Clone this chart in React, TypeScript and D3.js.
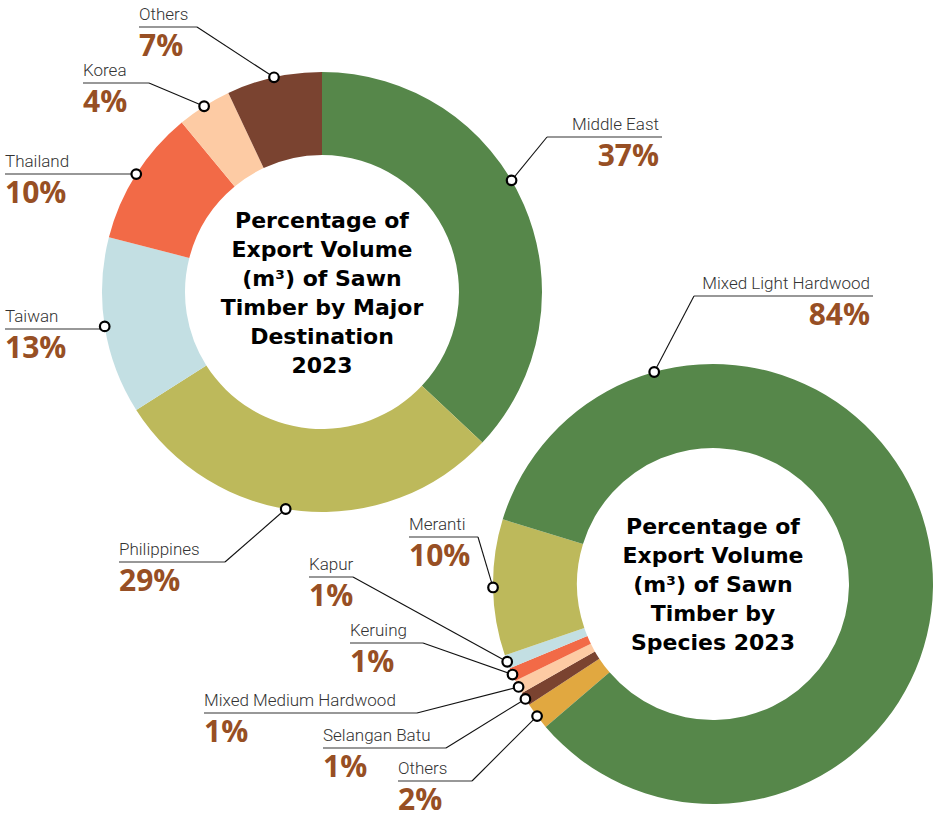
import React from 'react';
import * as d3 from 'd3';

// ---------- Data ----------
const destCategories = ['Middle East', 'Philippines', 'Taiwan', 'Thailand', 'Korea', 'Others'];
const destValues = [37, 29, 13, 10, 4, 7];
const destColors = ['#56874a', '#bdb95b', '#c3dfe3', '#f26a47', '#fdcba4', '#7a4330'];
const destTitle = ['Percentage of', 'Export Volume', '(m³) of Sawn', 'Timber by Major', 'Destination', '2023'];

const speciesCategories = ['Others', 'Selangan Batu', 'Mixed Medium Hardwood', 'Keruing', 'Kapur', 'Meranti', 'Mixed Light Hardwood'];
const speciesValues = [2, 1, 1, 1, 1, 10, 84];
const speciesColors = ['#e1a840', '#7a4330', '#fdcba4', '#f26a47', '#c3dfe3', '#bdb95b', '#56874a'];
const speciesTitle = ['Percentage of', 'Export Volume', '(m³) of Sawn', 'Timber by', 'Species 2023'];

// ---------- Layout ----------
type LabelPos = { x: number; lineY: number; elbow: number | null; align: 'start' | 'end'; anchorDeg?: number };

const destLabels: LabelPos[] = [
  { x: 659, lineY: 137, elbow: 547, align: 'end', anchorDeg: 59.5 },
  { x: 119, lineY: 562, elbow: 225, align: 'start', anchorDeg: 189.5 },
  { x: 5, lineY: 329, elbow: null, align: 'start' },
  { x: 5, lineY: 174, elbow: null, align: 'start' },
  { x: 83, lineY: 83, elbow: 149, align: 'start' },
  { x: 139, lineY: 27, elbow: 197, align: 'start' },
];

const speciesLabels: LabelPos[] = [
  { x: 398, lineY: 781, elbow: 472, align: 'start' },
  { x: 323, lineY: 748, elbow: 446, align: 'start' },
  { x: 204, lineY: 713, elbow: 417, align: 'start' },
  { x: 350, lineY: 643, elbow: 423, align: 'start' },
  { x: 309, lineY: 577, elbow: 353, align: 'start' },
  { x: 409, lineY: 537, elbow: 478, align: 'start' },
  { x: 870, lineY: 296, elbow: 694, align: 'end', anchorDeg: 344.5 },
];

const LABEL_FONT = 'Roboto, sans-serif';
const TITLE_FONT = '"DejaVu Sans", sans-serif';
const PCT_FONT = '"Open Sans", sans-serif';
const PCT_COLOR = '#974f24';

function Donut(props: {
  cx: number; cy: number; R: number; r: number; startDeg: number;
  cats: string[]; vals: number[]; colors: string[]; labels: LabelPos[]; title: string[];
}) {
  const { cx, cy, R, r, startDeg, cats, vals, colors, labels, title } = props;
  const start = (startDeg * Math.PI) / 180;
  const pie = d3.pie<number>().sort(null).value((d) => d).startAngle(start).endAngle(start + 2 * Math.PI);
  const arcs = pie(vals);
  const arc = d3.arc<d3.PieArcDatum<number>>().innerRadius(r).outerRadius(R);
  const n = title.length;
  return (
    <g>
      <g transform={`translate(${cx},${cy})`}>
        {arcs.map((a, i) => (
          <path key={i} d={arc(a) || ''} fill={colors[i]} />
        ))}
      </g>
      {title.map((t, i) => (
        <text key={i} x={cx} y={cy + (i - (n - 1) / 2) * 29 + 8} textAnchor="middle"
          fontFamily={TITLE_FONT} fontWeight={700} fontSize={22} fill="#000">{t}</text>
      ))}
      {arcs.map((a, i) => {
        const L = labels[i];
        const ang = L.anchorDeg !== undefined ? (L.anchorDeg * Math.PI) / 180 : (a.startAngle + a.endAngle) / 2;
        const mx = cx + R * Math.sin(ang);
        const my = cy - R * Math.cos(ang);
        const elbowX = L.elbow === null ? mx : L.elbow;
        const lineStart = L.align === 'start' ? L.x : elbowX;
        const lineEnd = L.align === 'start' ? elbowX : L.x + 3;
        return (
          <g key={'l' + i}>
            <line x1={lineStart} y1={L.lineY} x2={lineEnd} y2={L.lineY} stroke="#333" strokeWidth={1.2} />
            {L.elbow !== null && (
              <line x1={elbowX} y1={L.lineY} x2={mx} y2={my} stroke="#111" strokeWidth={1.1} />
            )}
            <text x={L.x} y={L.lineY - 7} textAnchor={L.align} fontFamily={LABEL_FONT} fontWeight={300}
              fontSize={17} fill="#333">{cats[i]}</text>
            <text x={L.x} y={L.lineY + 29} textAnchor={L.align} fontFamily={PCT_FONT} fontWeight={700}
              fontSize={30} fill={PCT_COLOR}>{vals[i]}%</text>
            <circle cx={mx} cy={my} r={4.8} fill="#fff" stroke="#000" strokeWidth={2.2} />
          </g>
        );
      })}
    </g>
  );
}

export default function App() {
  return (
    <svg width={936} height={818} style={{ position: 'absolute', left: 0, top: 0, background: '#fff' }}>
      <rect width={936} height={818} fill="#fff" />
      <Donut cx={322} cy={292} R={220} r={137} startDeg={0} cats={destCategories} vals={destValues}
        colors={destColors} labels={destLabels} title={destTitle} />
      <Donut cx={713} cy={584} R={220} r={136} startDeg={229.5} cats={speciesCategories} vals={speciesValues}
        colors={speciesColors} labels={speciesLabels} title={speciesTitle} />
    </svg>
  );
}
